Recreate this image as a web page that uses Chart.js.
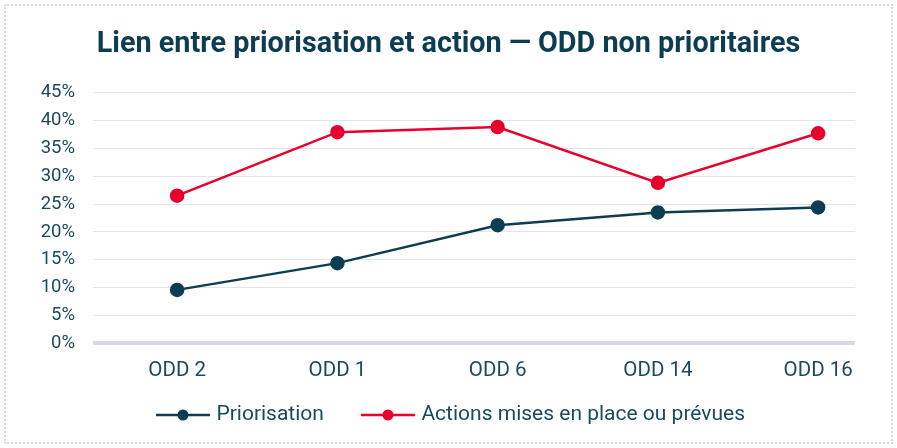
<!DOCTYPE html>
<html lang="fr">
<head>
<meta charset="utf-8">
<script src="https://cdn.jsdelivr.net/npm/chart.js@4.4.0/dist/chart.umd.min.js"></script>
<style>
  html, body { margin: 0; padding: 0; background: #fff; }
  #cadre {
    position: absolute; left: 4px; top: 4px;
    width: 885px; height: 436px;
    border: 2px dotted #d6d9de;
  }
  canvas { display: block; }
</style>
</head>
<body>
<div id="cadre"><canvas id="graphique"></canvas></div>
<script>
// Données du graphique
const categories = ['ODD 2', 'ODD 1', 'ODD 6', 'ODD 14', 'ODD 16'];
const priorisation = [9.6, 14.4, 21.2, 23.5, 24.4];
const actions = [26.5, 37.9, 38.8, 28.8, 37.7];
const seriesNoms = ['Priorisation', 'Actions mises en place ou prévues'];
const yTicks = [0, 5, 10, 15, 20, 25, 30, 35, 40, 45];

const TEAL = '#0c3d50';
const ROUGE = '#e8002d';
const TEXTE = '#1a4a5d';

// Marqueur de légende : trait + point (décalé à droite dans l'image)
function marqueurLegende(couleur) {
    const c = document.createElement('canvas');
    c.width = 86; c.height = 14;
    const g = c.getContext('2d');
    g.strokeStyle = couleur;
    g.lineWidth = 2.5;
    g.beginPath(); g.moveTo(31, 7); g.lineTo(85, 7); g.stroke();
    g.fillStyle = couleur;
    g.beginPath(); g.arc(58, 7, 5.5, 0, Math.PI * 2); g.fill();
    return c;
}

function enPoints(valeurs) {
    return valeurs.map((v, i) => ({ x: i, y: v }));
}

// Petit recalage de la légende
const decalageLegende = {
    id: 'decalageLegende',
    afterInit(chart) {
        const leg = chart.legend;
        if (!leg) return;
        const dessin = leg.draw;
        leg.draw = function() {
            const c = this.ctx;
            c.save();
            c.translate(-11, 3.5);
            dessin.apply(this, arguments);
            c.restore();
        };
    }
};

const ctx = document.getElementById('graphique').getContext('2d');
new Chart(ctx, {
    type: 'line',
    data: {
        datasets: [
            {
                label: seriesNoms[0],
                data: enPoints(priorisation),
                borderColor: TEAL,
                backgroundColor: TEAL,
                borderWidth: 2.5,
                pointRadius: 6,
                pointHoverRadius: 6,
                tension: 0
            },
            {
                label: seriesNoms[1],
                data: enPoints(actions),
                borderColor: ROUGE,
                backgroundColor: ROUGE,
                borderWidth: 2.5,
                pointRadius: 6,
                pointHoverRadius: 6,
                tension: 0
            }
        ]
    },
    options: {
        responsive: true,
        maintainAspectRatio: false,
        animation: false,
        layout: { padding: { left: 0, right: 0, top: 0, bottom: 10 } },
        plugins: {
            title: {
                display: true,
                text: 'Lien entre priorisation et action — ODD non prioritaires',
                color: TEAL,
                font: { family: 'Roboto', size: 28.8, weight: 'bold' },
                padding: { top: 22, bottom: 30 }
            },
            legend: {
                position: 'bottom',
                labels: {
                    color: TEXTE,
                    font: { family: 'Roboto', size: 21 },
                    usePointStyle: true,
                    pointStyleWidth: 76,
                    padding: 11,
                    generateLabels: function(chart) {
                        return chart.data.datasets.map((ds, i) => ({
                            text: ds.label,
                            fontColor: TEXTE,
                            pointStyle: marqueurLegende(ds.borderColor),
                            datasetIndex: i,
                            hidden: false,
                            lineWidth: 0,
                            strokeStyle: 'transparent',
                            fillStyle: 'transparent'
                        }));
                    }
                }
            },
            tooltip: { enabled: false }
        },
        scales: {
            x: {
                type: 'linear',
                min: -0.525,
                max: 4.23,
                grid: { display: false },
                border: { display: false },
                ticks: {
                    stepSize: 1,
                    includeBounds: false,
                    autoSkip: false,
                    maxRotation: 0,
                    color: TEXTE,
                    font: { family: 'Roboto', size: 20.5 },
                    padding: 7,
                    callback: function(value) {
                        return Number.isInteger(value) ? categories[value] : '';
                    }
                }
            },
            y: {
                min: 0,
                max: 45,
                afterBuildTicks: function(scale) {
                    scale.ticks = yTicks.map(v => ({ value: v }));
                },
                afterFit: function(scale) { scale.width = 87; },
                border: { display: false },
                grid: {
                    drawTicks: false,
                    color: (c) => c.tick.value === 0 ? '#d7dae0' : '#e2e4e9',
                    lineWidth: (c) => c.tick.value === 0 ? 4 : 1
                },
                ticks: {
                    color: TEXTE,
                    font: { family: 'Roboto', size: 18.5 },
                    padding: 18,
                    callback: (v) => v + '%'
                }
            },
            droite: {
                position: 'right',
                grid: { display: false },
                border: { display: false },
                ticks: { display: false },
                afterFit: function(scale) { scale.width = 36; }
            }
        }
    },
    plugins: [decalageLegende]
});
</script>
</body>
</html>
